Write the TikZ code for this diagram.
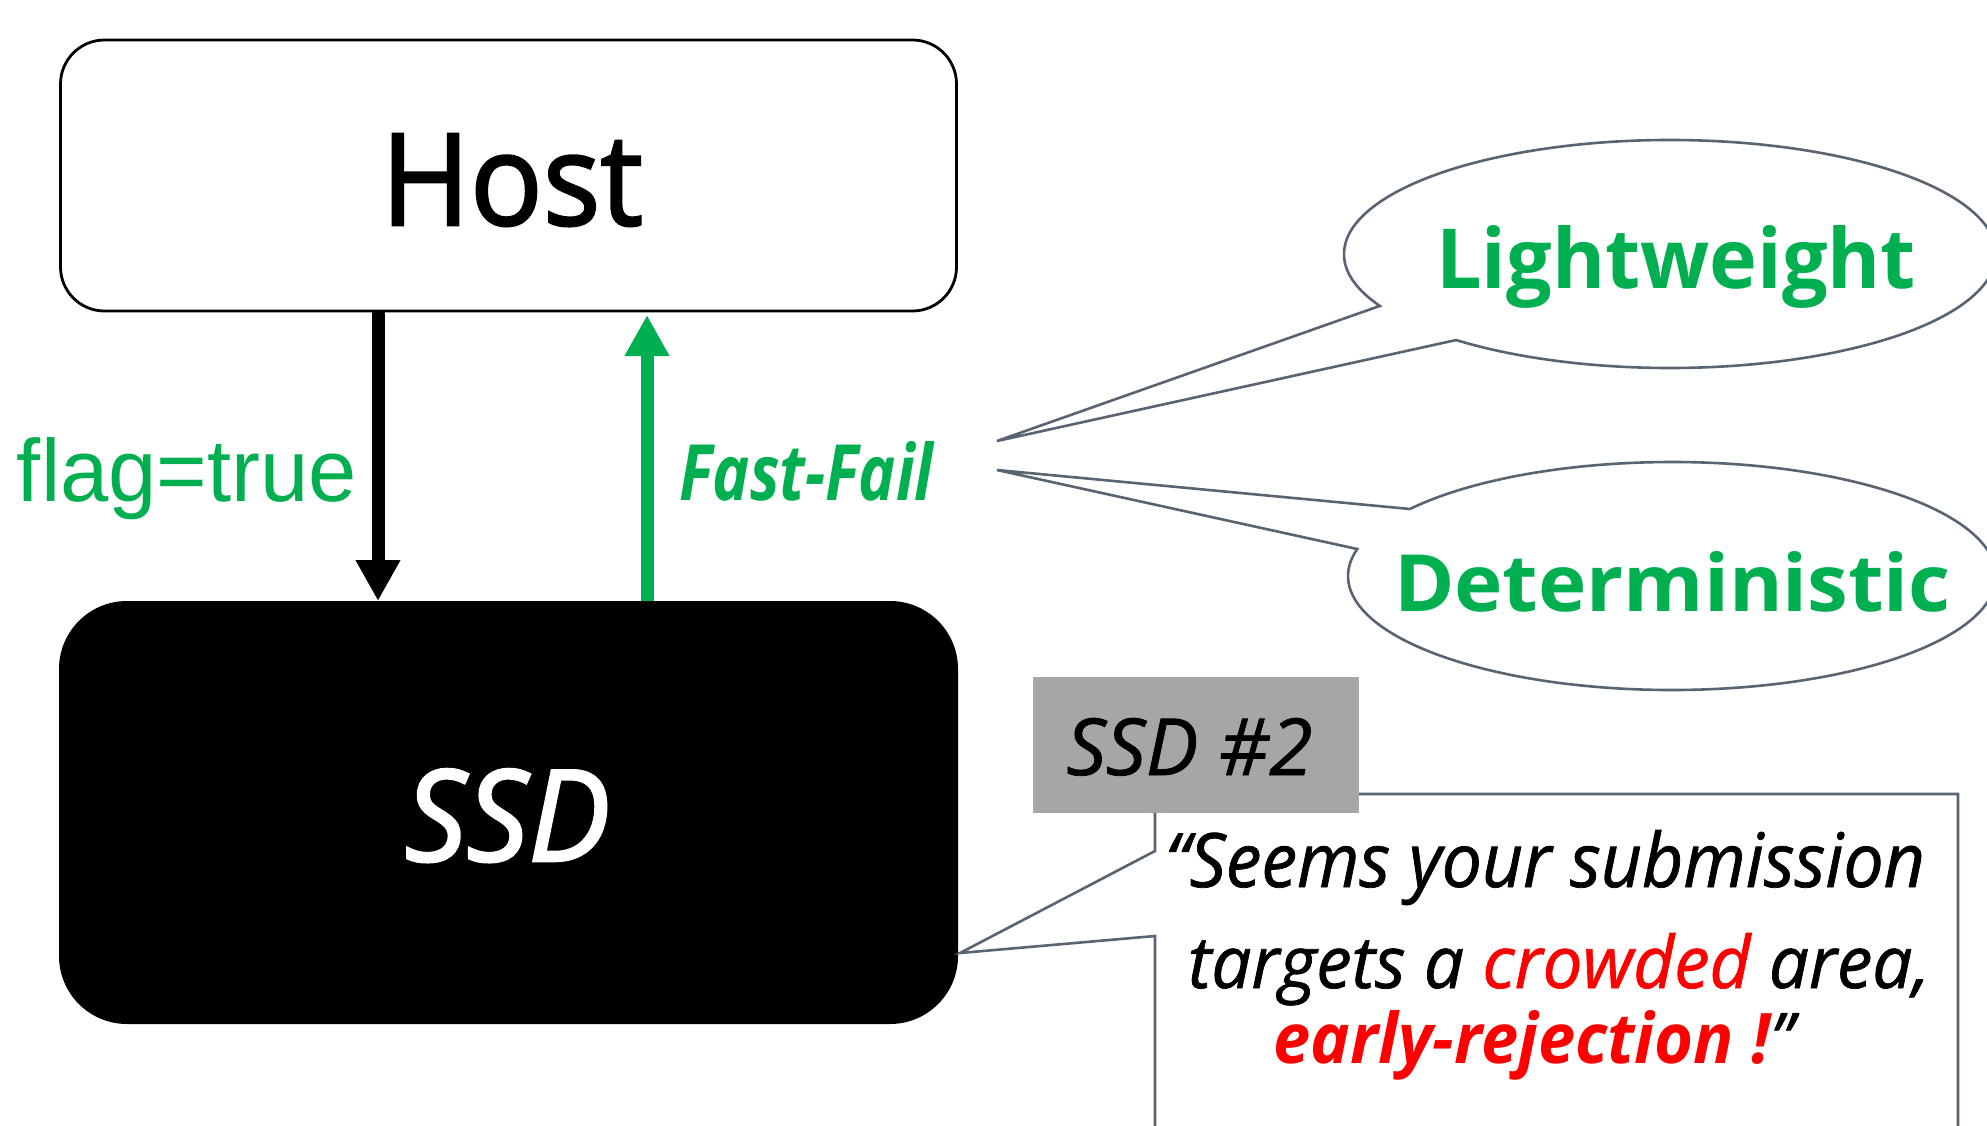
\documentclass[tikz,border=0pt]{standalone}
\usepackage{fontspec}
\usepackage{graphicx}
\setmainfont{Open Sans}
\newfontfamily\helvfont{Liberation Sans}
\newfontfamily\heavyfont[FakeBold=2]{Open Sans}
\newfontfamily\notefont[FakeBold=1]{Open Sans}
\usetikzlibrary{arrows.meta,calc}

\definecolor{okgreen}{RGB}{0,176,80}
\definecolor{slate}{RGB}{88,100,114}
\definecolor{boxgrey}{RGB}{166,166,166}
\definecolor{alertred}{RGB}{255,0,0}

% scale a piece of text to a given width and height (in pt)
\newcommand{\fitto}[3]{\resizebox{#1pt}{#2pt}{#3}}

\begin{document}
\begin{tikzpicture}[x=1pt,y=-1pt,
  every node/.style={inner sep=0pt, outer sep=0pt, font=\fontsize{50}{60}\selectfont},
  hostbox/.style={draw=black, line width=2.8pt, rounded corners=44pt, fill=white},
  ssdbox/.style={fill=black, rounded corners=68pt},
  flow/.style={line width=13pt, -{Triangle[length=41pt,width=42pt]}},
  bubble/.style={draw=slate, line width=2.6pt, fill=white, line join=miter},
  lbl/.style={anchor=base},
]
% canvas
\fill[white] (0,0) rectangle (1987,1125);
\clip (0,0) rectangle (1987,1125);

% host and device
\node[hostbox, minimum width=896pt, minimum height=271pt] (host) at (508.5,175.5) {};
\node[lbl] (hostlabel) at (512,225) {\fitto{262}{91}{\heavyfont Host}};
\node[ssdbox, minimum width=899pt, minimum height=423pt] (ssd) at (508.5,812.5) {};
\node[lbl, text=white] (ssdlabel) at (507.5,861) {\fitto{205}{92}{\heavyfont\itshape SSD}};

% request and fast-fail reply
\coordinate (downx) at (378,0);
\coordinate (upx) at (647,0);
\draw[flow, black] (host.south -| downx) -- (ssd.north -| downx);
\draw[flow, okgreen, shorten >=4pt] (ssd.north -| upx) -- (host.south -| upx);
\node[lbl, text=okgreen] (flaglabel) at (187,501) {\fitto{340}{64}{\helvfont flag=true}};
\node[lbl, text=okgreen] (faillabel) at (806.5,500) {\fitto{254}{59}{\bfseries\itshape Fast-Fail}};

% speech bubbles describing the fast-fail answer
\coordinate (lwc) at (1670,254);
\coordinate (lwtip) at (997,441);
\draw[bubble] (lwtip) -- ($(lwc)+(207.1:326pt and 114pt)$)
  arc[start angle=207.1, end angle=-131, x radius=326pt, y radius=114pt] -- cycle;
\node[lbl, text=okgreen] (lwlabel) at (1676,288) {\fitto{480}{63}{\bfseries Lightweight}};

\coordinate (dtc) at (1672,576);
\coordinate (dttip) at (997,470);
\draw[bubble] (dttip) -- ($(dtc)+(144:324pt and 114pt)$)
  arc[start angle=144, end angle=-193.7, x radius=324pt, y radius=114pt] -- cycle;
\node[lbl, text=okgreen] (dtlabel) at (1672.5,611) {\fitto{557}{60}{\bfseries Deterministic}};

% second device and its message
\coordinate (msgtip) at (960,953);
\draw[bubble] (1155,794) -- (1958,794) -- (1958,1140) -- (1155,1140) -- (1155,936)
  -- (msgtip) -- (1155,851) -- cycle;
\node[fill=boxgrey, minimum width=326pt, minimum height=136pt] (ssdtwo) at (1196,745) {};
\node[lbl] (ssdtwolabel) at (1189.5,775) {\fitto{246}{57}{\notefont\itshape SSD \#2}};

\node[lbl] (msgone) at (1545,887) {\fitto{760}{57}{\notefont\itshape “Seems your submission}};
\node[lbl] (msgtwo) at (1559,988) {\fitto{742}{55}{\notefont\itshape targets a {\color{alertred}crowded} area,}};
\node[lbl] (msgthree) at (1533.5,1063) {\fitto{520}{53}{{\color{alertred}\bfseries\itshape early-rejection !}\notefont\itshape ”}};
\end{tikzpicture}
\end{document}
